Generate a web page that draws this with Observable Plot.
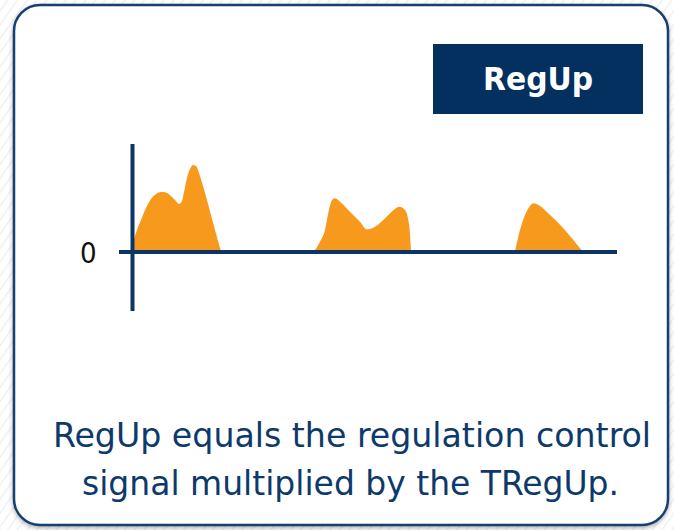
<!DOCTYPE html>
<html>
<head>
<meta charset="utf-8">
<script src="https://cdn.jsdelivr.net/npm/d3@7"></script>
<script src="https://cdn.jsdelivr.net/npm/@observablehq/plot@0.6"></script>
<style>
  html, body { margin: 0; padding: 0; background: #fff; }
  #page { position: relative; width: 674px; height: 530px; overflow: hidden;
    background: repeating-linear-gradient(125deg, #ffffff 0px, #ffffff 5px, #f0f0f0 6px, #ffffff 8px); }
  #bg, #chart, #overlay { position: absolute; left: 0; top: 0; }
</style>
</head>
<body>
<div id="page">
  <svg id="bg" width="674" height="530">
    <defs>
      <filter id="sh" x="-5%" y="-5%" width="110%" height="110%">
        <feDropShadow dx="0" dy="2" stdDeviation="2" flood-color="#000" flood-opacity="0.3"/>
      </filter>
    </defs>
    <rect x="14" y="5" width="654" height="520" rx="26" ry="26" fill="#ffffff" stroke="#173f70" stroke-width="2.5" filter="url(#sh)"/>
  </svg>
  <div id="chart"></div>
  <svg id="overlay" width="674" height="530"></svg>
</div>
<script>
// ---- Data ----
// Bump 1
const t1 = [0, 0.4, 1.0, 1.8, 2.8, 3.8, 4.8, 5.8, 6.8, 7.8, 8.8, 9.4, 10.0, 10.4, 11.0, 11.6, 12.2, 12.8, 13.4, 14.2, 15.0, 15.8, 16.6, 17.2, 17.8];
const v1 = [0, 1.15, 2.15, 3.15, 4.35, 5.25, 5.75, 5.95, 5.9, 5.55, 5.05, 4.75, 5.05, 5.95, 7.35, 8.25, 8.65, 8.55, 7.85, 6.55, 5.15, 3.65, 2.15, 1.05, 0];
// Bump 2
const t2 = [36.4, 37.6, 38.6, 39.26, 39.94, 40.6, 41.6, 43.6, 45.6, 46.94, 48.26, 50.26, 51.94, 53.46, 54.6, 55.26, 55.6, 55.8];
const v2 = [0, 0.98, 2.15, 3.85, 5.08, 5.32, 4.98, 3.98, 2.98, 2.22, 2.38, 3.15, 3.98, 4.48, 4.15, 3.15, 1.82, 0];
// Bump 3
const t3 = [76.6, 77.6, 78.6, 79.6, 80.26, 81.26, 83.6, 86.26, 88.26, 90.14];
const v3 = [0, 2.15, 3.65, 4.55, 4.82, 4.65, 3.65, 2.32, 1.15, 0];
const yTicks = [0];
const label = "RegUp";
const captionLines = ["RegUp equals the regulation control", "signal multiplied by the TRegUp."];

// ---- Build table ----
const rows = [];
[[t1, v1, "a"], [t2, v2, "b"], [t3, v3, "c"]].forEach(([ts, vs, id]) => {
  ts.forEach((t, i) => rows.push({t, v: vs[i], bump: id}));
});

const navy = "#0b3566";
const orange = "#f7991d";
const font = "'Liberation Sans Narrow', 'DejaVu Sans Condensed', sans-serif";

const chart = Plot.plot({
  width: 674,
  height: 530,
  marginLeft: 119,
  marginRight: 57,
  marginTop: 144,
  marginBottom: 219,
  x: {domain: [-2.6, 97], axis: null},
  y: {domain: [-5.95, 10.75], axis: null},
  style: {background: "transparent", overflow: "visible"},
  marks: [
    Plot.areaY(rows, {x: "t", y: "v", z: "bump", fill: orange, curve: "monotone-x"}),
    Plot.ruleY([0], {stroke: navy, strokeWidth: 4}),
    Plot.ruleX([0], {stroke: navy, strokeWidth: 4}),
    Plot.axisY(yTicks, {tickSize: 0, tickPadding: 23, fontSize: 29, dy: 2, fill: "#111",
      label: null, fontFamily: font})
  ]
});
document.getElementById("chart").appendChild(chart);

// ---- Overlay: label box and caption ----
const ov = d3.select("#overlay");
ov.append("rect").attr("x", 433).attr("y", 44).attr("width", 210).attr("height", 70).attr("fill", "#03305f");
ov.append("text").text(label)
  .attr("x", 483).attr("y", 90)
  .attr("textLength", 110).attr("lengthAdjust", "spacingAndGlyphs")
  .attr("font-family", font)
  .attr("font-weight", "bold").attr("font-size", 32).attr("fill", "#ffffff");
const cap = [
  {x: 53, y: 446.5, len: 598},
  {x: 82, y: 495, len: 537}
];
captionLines.forEach((s, i) => {
  ov.append("text").text(s)
    .attr("x", cap[i].x).attr("y", cap[i].y)
    .attr("textLength", cap[i].len).attr("lengthAdjust", "spacingAndGlyphs")
    .attr("font-family", font)
    .attr("font-size", 34).attr("fill", "#0d3a6c");
});
</script>
</body>
</html>
